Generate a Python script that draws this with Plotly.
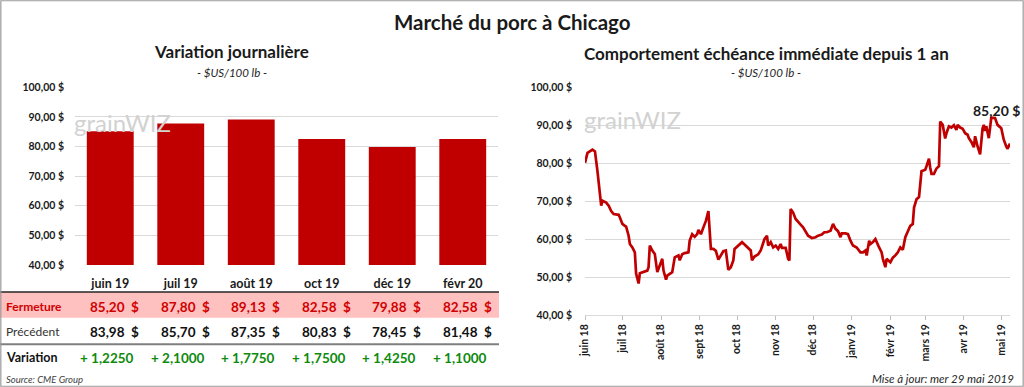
import plotly.graph_objects as go

# ---------------- data ----------------
contracts = ["juin 19", "juil 19", "août 19", "oct 19", "déc 19", "févr 20"]
fermeture = [85.20, 87.80, 89.13, 82.58, 79.88, 82.58]
precedent = [83.98, 85.70, 87.35, 80.83, 78.45, 81.48]
variation = [1.2250, 2.1000, 1.7750, 1.7500, 1.4250, 1.1000]

dates = [
    "2018-06-01","2018-06-03","2018-06-07","2018-06-09","2018-06-11","2018-06-13","2018-06-14","2018-06-15","2018-06-18","2018-06-20","2018-06-22","2018-06-24","2018-06-28","2018-06-29",
    "2018-07-01","2018-07-03","2018-07-04","2018-07-06","2018-07-07","2018-07-09","2018-07-11","2018-07-12","2018-07-14","2018-07-15","2018-07-18","2018-07-21","2018-07-22","2018-07-23","2018-07-25","2018-07-27","2018-07-29","2018-07-31",
    "2018-08-02","2018-08-03","2018-08-05","2018-08-06","2018-08-08","2018-08-10","2018-08-12","2018-08-15","2018-08-16","2018-08-18","2018-08-20","2018-08-23","2018-08-24","2018-08-26","2018-08-28","2018-08-30","2018-08-31",
    "2018-09-02","2018-09-04","2018-09-06","2018-09-08","2018-09-10","2018-09-12","2018-09-14","2018-09-16","2018-09-18","2018-09-20","2018-09-22","2018-09-24","2018-09-26","2018-09-28","2018-09-29",
    "2018-10-02","2018-10-05","2018-10-07","2018-10-10","2018-10-12","2018-10-13","2018-10-15","2018-10-18","2018-10-20","2018-10-23","2018-10-25","2018-10-26","2018-10-28","2018-10-30",
    "2018-11-01","2018-11-03","2018-11-05","2018-11-06","2018-11-09","2018-11-11","2018-11-12","2018-11-13","2018-11-15","2018-11-17","2018-11-19","2018-11-21","2018-11-23","2018-11-25","2018-11-27","2018-11-30",
    "2018-12-03","2018-12-05","2018-12-08","2018-12-10","2018-12-12","2018-12-15","2018-12-17","2018-12-19","2018-12-21","2018-12-23","2018-12-24","2018-12-27","2018-12-29","2018-12-31",
    "2019-01-02","2019-01-05","2019-01-08","2019-01-10","2019-01-12","2019-01-13","2019-01-15","2019-01-16","2019-01-18","2019-01-20","2019-01-21","2019-01-23","2019-01-25","2019-01-26","2019-01-28","2019-01-29",
    "2019-02-01","2019-02-03","2019-02-05","2019-02-07","2019-02-09","2019-02-11","2019-02-13","2019-02-15","2019-02-17","2019-02-19","2019-02-20","2019-02-22","2019-02-24","2019-02-26",
    "2019-03-01","2019-03-02","2019-03-04","2019-03-05","2019-03-06","2019-03-08","2019-03-10","2019-03-12","2019-03-13","2019-03-15","2019-03-17","2019-03-18","2019-03-20","2019-03-22","2019-03-24","2019-03-26","2019-03-27","2019-03-29","2019-03-31",
    "2019-04-02","2019-04-04","2019-04-05","2019-04-07","2019-04-09","2019-04-10","2019-04-12","2019-04-13","2019-04-14","2019-04-16","2019-04-17","2019-04-18","2019-04-19","2019-04-21","2019-04-22","2019-04-23","2019-04-26","2019-04-28",
    "2019-05-01","2019-05-03","2019-05-05","2019-05-06","2019-05-08",
]
prices = [
    80.1, 82.7, 83.6, 83.1, 77.9, 72.7, 68.8, 70.1, 69.6, 68.8, 67.4, 66.6, 66.4, 65.7,
    64.0, 63.5, 63.3, 60.9, 58.7, 57.8, 56.5, 50.9, 48.3, 51.0, 51.3, 51.7, 52.6, 58.3, 57.0, 56.1, 51.3, 53.1,
    54.8, 51.7, 49.3, 50.4, 50.9, 51.3, 55.2, 55.7, 54.4, 56.0, 56.3, 56.5, 59.6, 61.3, 60.6, 61.3, 62.4,
    61.3, 63.1, 64.8, 67.4, 57.4, 57.4, 56.9, 54.6, 55.7, 56.8, 57.0, 51.9, 52.6, 54.4, 57.4,
    58.3, 59.2, 58.6, 57.7, 57.0, 54.4, 55.4, 56.0, 57.0, 60.0, 60.9, 58.3, 59.2, 57.8,
    58.3, 57.4, 58.7, 57.7, 57.7, 54.8, 54.4, 67.9, 67.0, 65.3, 64.4, 63.8, 63.1, 61.8, 60.9, 60.3,
    60.5, 60.9, 61.2, 61.8, 61.8, 62.2, 64.0, 62.7, 62.1, 60.5, 61.5, 61.5, 61.3, 59.6,
    58.3, 57.8, 56.5, 56.5, 57.0, 55.7, 59.6, 58.7, 59.2, 60.0, 59.2, 57.8, 56.5, 54.8, 52.6, 54.8,
    53.9, 55.1, 55.7, 56.5, 57.8, 57.2, 60.5, 61.8, 63.5, 64.0, 68.3, 70.5, 71.1, 77.9,
    78.3, 79.2, 81.2, 78.8, 77.2, 77.2, 78.6, 79.2, 91.0, 90.1, 86.5, 87.9, 89.7, 89.4, 90.0, 88.8, 90.1, 89.4, 89.1,
    87.9, 87.5, 86.6, 85.6, 84.2, 87.1, 84.4, 83.1, 82.3, 89.2, 90.1, 88.5, 89.7, 86.6, 90.1, 92.0, 91.9, 90.1,
    89.2, 86.2, 84.4, 83.8, 85.2,
]
month_ticks = ["2018-06-01","2018-07-01","2018-08-01","2018-09-01","2018-10-01","2018-11-01",
               "2018-12-01","2019-01-01","2019-02-01","2019-03-01","2019-04-01","2019-05-01"]
month_labels = ["juin 18","juil 18","août 18","sept 18","oct 18","nov 18",
                "déc 18","janv 19","févr 19","mars 19","avr 19","mai 19"]

# ---------------- styling ----------------
W, H = 1024, 387
FONT = "Lato"
RED = "#C00000"
GRID = "#d9d9d9"

def px(x):
    return x / W

def py(y):
    return (H - y) / H

def fr(v, nd=2):
    return f"{v:.{nd}f}".replace(".", ",")

fig = go.Figure()

fig.add_trace(go.Bar(x=contracts, y=fermeture, marker=dict(color=RED, line=dict(width=0)),
                     xaxis="x", yaxis="y", hoverinfo="skip"))
fig.add_trace(go.Scatter(x=dates, y=prices, mode="lines", line=dict(color=RED, width=2.7),
                         xaxis="x2", yaxis="y2", hoverinfo="skip"))

tickfont = dict(family=FONT, size=10.5, color="#1a1a1a", weight="bold")

fig.update_layout(
    template="none",
    width=W, height=H, margin=dict(l=0, r=0, t=0, b=0, autoexpand=False),
    paper_bgcolor="white", plot_bgcolor="white", showlegend=False,
    separators=", ", bargap=0.335,
    font=dict(family=FONT, color="#1a1a1a"),
    xaxis=dict(domain=[px(75), px(498)], anchor="y", type="category", automargin=False,
               showgrid=False, showline=False, ticks="", zeroline=False,
               tickfont=dict(family=FONT, size=12.5, color="#1a1a1a", weight="bold"),
               ticklabelstandoff=9),
    yaxis=dict(domain=[py(265), py(87.3)], anchor="x", range=[40, 100], dtick=10, automargin=False,
               tickformat=".2f", ticksuffix=" $", showgrid=True, gridcolor=GRID, gridwidth=1,
               zeroline=False, showline=False, ticks="", tickfont=tickfont, ticklabelstandoff=10),
    xaxis2=dict(domain=[px(585), px(1010)], anchor="y2", type="date", automargin=False,
                range=["2018-06-01", "2019-05-08"], tickvals=month_ticks, ticktext=month_labels,
                tickangle=-90, ticks="outside", ticklen=4, tickcolor="#bfbfbf",
                showline=True, linecolor=GRID, linewidth=1, showgrid=False, zeroline=False,
                tickfont=dict(family=FONT, size=10.5, color="#1a1a1a", weight="bold")),
    yaxis2=dict(domain=[py(315), py(87.3)], anchor="x2", range=[40, 100], dtick=10, automargin=False,
                tickformat=".2f", ticksuffix=" $", showgrid=True, gridcolor=GRID, gridwidth=1,
                zeroline=False, showline=False, ticks="", tickfont=tickfont, ticklabelstandoff=12),
)

shapes = []
# table: pink band, borders
shapes.append(dict(type="rect", xref="paper", yref="paper", x0=0, x1=px(499), y0=py(317.7), y1=py(292),
                   fillcolor="#FFC0C0", line=dict(width=0), layer="below"))
shapes.append(dict(type="line", xref="paper", yref="paper", x0=0, x1=px(499), y0=py(292), y1=py(292),
                   line=dict(color="#262626", width=1.5)))
shapes.append(dict(type="line", xref="paper", yref="paper", x0=0, x1=px(499), y0=py(344.3), y1=py(344.3),
                   line=dict(color="#7f7f7f", width=2)))
# outer border
shapes.append(dict(type="rect", xref="paper", yref="paper", x0=0.0008, x1=0.9992, y0=0.002, y1=0.998,
                   line=dict(color="#9a9a9a", width=1.2), fillcolor="rgba(0,0,0,0)"))
fig.update_layout(shapes=shapes)

ann = []

def add_text(text, x, y, size, color="#1a1a1a", weight="normal", style="normal",
             xanchor="center", xref="paper", xshift=0):
    ann.append(dict(text=text, x=x if xref != "paper" else px(x), y=py(y), xref=xref, yref="paper",
                    xanchor=xanchor, yanchor="middle", showarrow=False, xshift=xshift,
                    font=dict(family=FONT, size=size, color=color, weight=weight, style=style)))

# titles
add_text("Marché du porc à Chicago", 512, 22, 20.5, weight="bold")
add_text("Variation journalière", 231.5, 52, 17, weight="bold")
add_text("- $US/100 lb -", 231.5, 72, 11.5, style="italic", color="#262626")
add_text("Comportement échéance immédiate depuis 1 an", 766, 53.5, 17, weight="bold")
add_text("- $US/100 lb -", 766, 73, 11.5, style="italic", color="#262626")

# watermarks
add_text("grainWIZ", 122, 122, 24, color="#d2d2d2")
add_text("grainWIZ", 632, 119, 24, color="#d2d2d2")

# table row labels
add_text("Fermeture", 4, 306.5, 12, color="#D00000", weight="bold", xanchor="left")
add_text("Précédent", 4, 331.5, 12, color="#333333", xanchor="left")
add_text("Variation", 4, 357.5, 12.5, color="#111111", weight="bold", xanchor="left")

for c, f, p, v in zip(contracts, fermeture, precedent, variation):
    add_text(fr(f), c, 306.5, 13.5, color="#D00000", weight="bold", xanchor="right", xref="x", xshift=17)
    add_text("$", c, 306.5, 13.5, color="#D00000", weight="bold", xanchor="left", xref="x", xshift=19)
    add_text(fr(p), c, 331.5, 13.5, color="#111111", weight="bold", xanchor="right", xref="x", xshift=17)
    add_text("$", c, 331.5, 13.5, color="#111111", weight="bold", xanchor="left", xref="x", xshift=19)
    add_text("+ " + fr(v, 4), c, 357.5, 13.5, color="#0e8a0e", weight="bold", xref="x", xshift=-3)

add_text("Source: CME Group", 4, 379.5, 9.5, color="#404040", style="italic", xanchor="left")
add_text("Mise à jour: mer 29 mai 2019", 1016, 378.5, 11.5, color="#262626", style="italic", xanchor="right")

# last value label
ann.append(dict(text=fr(prices[-1]) + " $", x=dates[-1], y=prices[-1], xref="x2", yref="y2",
                showarrow=False, xanchor="center", yanchor="middle", xshift=-14, yshift=33,
                font=dict(family=FONT, size=14, color="#1a1a1a", weight="bold")))

fig.update_layout(annotations=ann)
fig.write_html("out.html", config={"displayModeBar": False, "staticPlot": True},
               post_script="document.body.style.margin='0px';document.body.style.overflow='hidden';")
